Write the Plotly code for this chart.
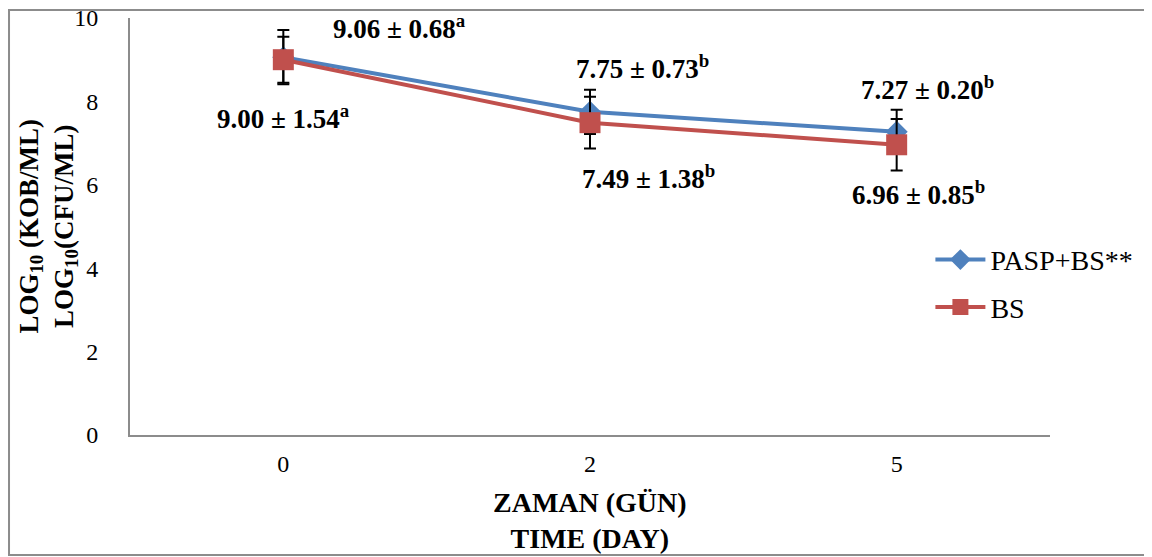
import plotly.graph_objects as go

days = ["0", "2", "5"]
pasp_bs = [9.06, 7.75, 7.27]
pasp_bs_err = [0.65, 0.53, 0.53]
bs = [9.00, 7.49, 6.96]
bs_err = [0.55, 0.62, 0.62]

labels_pasp = ["9.06 ± 0.68<sup>a</sup>", "7.75 ± 0.73<sup>b</sup>", "7.27 ± 0.20<sup>b</sup>"]
labels_bs = ["9.00 ± 1.54<sup>a</sup>", "7.49 ± 1.38<sup>b</sup>", "6.96 ± 0.85<sup>b</sup>"]
# label anchor positions (category index, value)
label_pos_pasp = [(0.38, 9.78), (1.17, 8.82), (2.10, 8.32)]
label_pos_bs = [(0.0, 7.63), (1.19, 6.19), (2.07, 5.80)]

SERIF = "Liberation Serif"
BLUE = "#4F81BD"
RED = "#C0504D"

fig = go.Figure()
fig.add_trace(go.Scatter(
    x=days, y=pasp_bs, name="PASP+BS**", mode="lines+markers", legendgroup="a",
    line=dict(color=BLUE, width=4),
    marker=dict(symbol="diamond", size=17, color=BLUE),
    error_y=dict(type="data", array=pasp_bs_err, color="black", thickness=2, width=6),
))
fig.add_trace(go.Scatter(
    x=days, y=bs, name="BS", mode="lines+markers", legendgroup="b",
    line=dict(color=RED, width=4),
    marker=dict(symbol="square", size=21, color=RED),
    error_y=dict(type="data", array=bs_err, color="black", thickness=2, width=6),
))

ann = []
for t, (px, py) in zip(labels_pasp + labels_bs, label_pos_pasp + label_pos_bs):
    ann.append(dict(x=px, y=py, xref="x", yref="y", text="<b>" + t + "</b>", showarrow=False,
                    xanchor="center", yanchor="middle",
                    font=dict(family=SERIF, size=27, color="black")))

# y-axis title (two lines)
ann.append(dict(x=-0.089, y=0.5, xref="paper", yref="paper", textangle=-90, showarrow=False,
                xanchor="center", yanchor="middle",
                text="<b>LOG<sub>10</sub> (KOB/ML)<br>LOG<sub>10</sub>(CFU/ML)</b>",
                font=dict(family=SERIF, size=27, color="black")))
# x-axis title (two lines)
ann.append(dict(x=0.5, y=-0.206, xref="paper", yref="paper", showarrow=False,
                xanchor="center", yanchor="middle",
                text="<b>ZAMAN (GÜN)<br>TIME (DAY)</b>",
                font=dict(family=SERIF, size=28, color="black")))

fig.update_layout(
    width=1144, height=549,
    margin=dict(l=122, r=102, t=10, b=122, autoexpand=False),
    paper_bgcolor="white", plot_bgcolor="white",
    showlegend=True,
    legend=dict(x=0.870, y=0.48, xanchor="left", yanchor="top",
                font=dict(family=SERIF, size=28, color="black"),
                bgcolor="rgba(0,0,0,0)", itemwidth=50, tracegroupgap=8),
    annotations=ann,
    shapes=[dict(type="rect", xref="paper", yref="paper",
                 x0=-0.1315, x1=1.1087, y0=-0.2878, y1=1.0192,
                 line=dict(color="#8c8c8c", width=2), fillcolor="rgba(0,0,0,0)", layer="below")],
    font=dict(family=SERIF, color="black"),
)
fig.update_xaxes(type="category", range=[-0.5, 2.5], showline=True, linecolor="#8c8c8c", linewidth=2,
                 showgrid=False, zeroline=False, ticks="", ticklabelstandoff=6, automargin=False,
                 tickfont=dict(family=SERIF, size=24, color="black"))
fig.update_yaxes(range=[0, 10], dtick=2, showline=True, linecolor="#8c8c8c", linewidth=2,
                 showgrid=False, zeroline=False, ticks="", ticklabelstandoff=25, automargin=False,
                 ticklabeloverflow="allow",
                 tickfont=dict(family=SERIF, size=24, color="black"))

fig.write_html("out.html")
